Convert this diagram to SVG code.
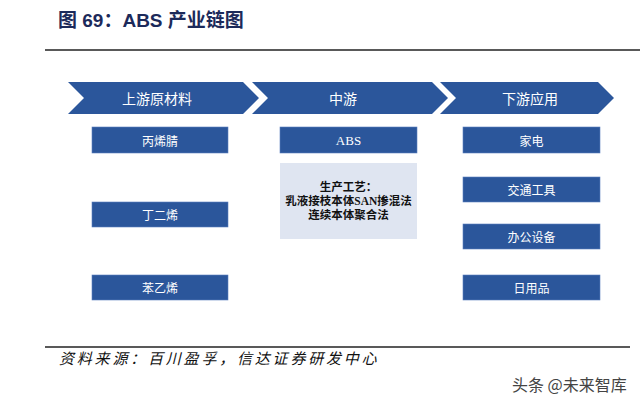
<svg xmlns="http://www.w3.org/2000/svg" width="640" height="408" viewBox="0 0 640 408">
<style>
.chev{fill:#2b569b}
.box{fill:#2b569b;stroke:#5a7fbf;stroke-width:0.6}
.lt{fill:#dfe5f1}
.ct{font-family:"Noto Sans CJK SC",sans-serif;font-size:14px;fill:#fff;text-anchor:middle;dominant-baseline:central}
.bt{font-family:"Noto Sans CJK SC",sans-serif;font-size:12px;fill:#fff;text-anchor:middle;dominant-baseline:central}
.pt{font-family:"Liberation Serif","Noto Sans CJK SC",serif;font-size:11.5px;fill:#111;text-anchor:middle;font-weight:bold}
</style>
<rect width="640" height="408" fill="#fff"/>
<text x="58" y="27" font-family="'Liberation Sans','Noto Sans CJK SC',sans-serif" font-size="19" font-weight="bold" fill="#1c2a5a">图 69：ABS 产业链图</text>
<line x1="45" y1="50" x2="640" y2="50" stroke="#222" stroke-width="1.5"/>
<g id="connectors"/>
<g id="stage-upstream">
<polygon class="chev" points="68,82 243,82 259,98 243,114 68,114 84,98"/>
<text class="ct" x="157" y="98">上游原材料</text>
</g>
<g id="stage-midstream">
<polygon class="chev" points="252,82 432,82 448,98 432,114 252,114 268,98"/>
<text class="ct" x="343" y="98">中游</text>
</g>
<g id="stage-downstream">
<polygon class="chev" points="440,82 598,82 614,98 598,114 440,114 456,98"/>
<text class="ct" x="530" y="98">下游应用</text>
</g>
<g id="n-acrylonitrile"><rect class="box" x="92" y="127" width="136" height="26"/><text class="bt" x="160" y="140">丙烯腈</text></g>
<g id="n-butadiene"><rect class="box" x="92" y="202" width="136" height="25"/><text class="bt" x="160" y="214.5">丁二烯</text></g>
<g id="n-styrene"><rect class="box" x="92" y="275" width="136" height="25"/><text class="bt" x="160" y="287.5">苯乙烯</text></g>
<g id="n-abs"><rect class="box" x="280" y="127" width="137" height="26"/><text class="bt" x="348.5" y="140" style="font-family:'Liberation Serif',serif;font-size:13px">ABS</text></g>
<g id="n-process"><rect class="lt" x="280" y="163" width="137" height="76"/>
<text class="pt" x="348.5" y="191">生产工艺：</text>
<text class="pt" x="348.5" y="205">乳液接枝本体SAN掺混法</text>
<text class="pt" x="348.5" y="219">连续本体聚合法</text></g>
<g id="n-appliance"><rect class="box" x="463" y="127" width="137" height="26"/><text class="bt" x="531.5" y="140">家电</text></g>
<g id="n-transport"><rect class="box" x="463" y="177" width="137" height="25"/><text class="bt" x="531.5" y="189.5">交通工具</text></g>
<g id="n-office"><rect class="box" x="463" y="224" width="137" height="25"/><text class="bt" x="531.5" y="236.5">办公设备</text></g>
<g id="n-daily"><rect class="box" x="463" y="275" width="137" height="25"/><text class="bt" x="531.5" y="287.5">日用品</text></g>
<line x1="45" y1="347" x2="630" y2="347" stroke="#222" stroke-width="1.5"/>
<text x="59" y="364" font-family="'Noto Sans CJK SC',sans-serif" font-size="15" font-style="italic" letter-spacing="2.8" fill="#111">资料来源：百川盈孚，信达证券研发中心</text>
<text x="512" y="391" font-family="'Noto Sans CJK SC',sans-serif" font-size="16" fill="#444">头条 @未来智库</text>
</svg>
